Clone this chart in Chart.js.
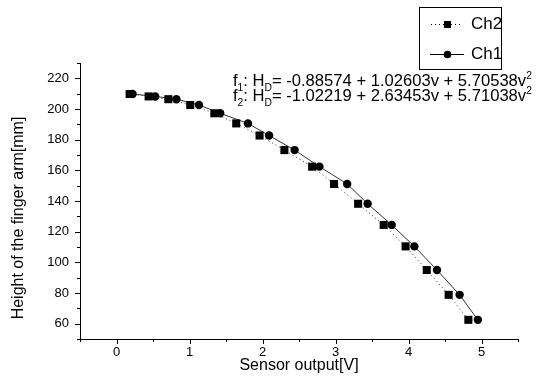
<!DOCTYPE html>
<html>
<head>
<meta charset="utf-8">
<script src="https://cdn.jsdelivr.net/npm/chart.js@4.4.0/dist/chart.umd.min.js"></script>
<style>
  html, body { margin: 0; padding: 0; background: #fff; }
  #wrap { width: 542px; height: 378px; }
</style>
</head>
<body>
<div id="wrap"><canvas id="chart" width="542" height="378"></canvas></div>
<script>
// values
const ch2X = [0.18, 0.44, 0.71, 1.01, 1.34, 1.64, 1.96, 2.30, 2.68, 2.98, 3.31, 3.66, 3.96, 4.25, 4.55, 4.82];
const ch2Y = [209.8, 208.2, 206.4, 202.6, 197.2, 190.6, 182.7, 173.2, 162.4, 151.1, 138.2, 124.4, 110.4, 95.0, 78.8, 62.5];
const ch1X = [0.22, 0.53, 0.82, 1.13, 1.42, 1.80, 2.09, 2.44, 2.78, 3.16, 3.44, 3.77, 4.08, 4.39, 4.70, 4.95];
const ch1Y = [209.8, 208.2, 206.4, 202.6, 197.2, 190.6, 182.7, 173.2, 162.4, 151.1, 138.2, 124.4, 110.4, 95.0, 78.8, 62.5];
const xTicks = [0, 1, 2, 3, 4, 5];
const yTicks = [60, 80, 100, 120, 140, 160, 180, 200, 220];
const seriesNames = ['Ch2', 'Ch1'];
const fitLines = [
    ['f', '1', ': H', 'D', '= -0.88574 + 1.02603v + 5.70538v', '2'],
    ['f', '2', ': H', 'D', '= -1.02219 + 2.63453v + 5.71038v', '2']
];

const FONT = '"Liberation Sans", Arial, sans-serif';
const INK = '#000';

function toPoints(xs, ys) {
    return xs.map((v, i) => ({ x: v, y: ys[i] }));
}

// parts alternate: normal, sub, normal, sub, normal, sup
function richWidth(ctx, parts, size) {
    let w = 0;
    parts.forEach((p, i) => {
        const fs = (i === 1 || i === 3 || i === 5) ? size * 0.62 : size;
        ctx.font = fs + 'px ' + FONT;
        w += ctx.measureText(p).width;
    });
    return w;
}

function drawRich(ctx, parts, x, y, size) {
    let cx = x;
    parts.forEach((p, i) => {
        let fs = size, dy = 0;
        if (i === 1 || i === 3) { fs = size * 0.62; dy = size * 0.28; }
        if (i === 5) { fs = size * 0.62; dy = -size * 0.42; }
        ctx.font = fs + 'px ' + FONT;
        ctx.fillText(p, cx, y + dy);
        cx += ctx.measureText(p).width;
    });
}

const decor = {
    id: 'decor',
    afterDraw(chart) {
        const { ctx, scales: { x, y }, chartArea: area } = chart;
        ctx.save();
        ctx.strokeStyle = INK;
        ctx.fillStyle = INK;
        ctx.lineWidth = 1;

        // x ticks, major + minor, pointing down
        for (let v = x.min; v <= x.max + 1e-9; v += 0.5) {
            const px = Math.round(x.getPixelForValue(v)) + 0.5;
            const len = Math.abs(v - Math.round(v)) < 1e-9 ? 5 : 3;
            ctx.beginPath();
            ctx.moveTo(px, area.bottom);
            ctx.lineTo(px, area.bottom + len);
            ctx.stroke();
        }
        // y ticks, pointing left
        for (let v = y.min; v <= y.max + 1e-9; v += 10) {
            const py = Math.round(y.getPixelForValue(v)) + 0.5;
            const len = v % 20 === 0 ? 5 : 3;
            ctx.beginPath();
            ctx.moveTo(area.left, py);
            ctx.lineTo(area.left - len, py);
            ctx.stroke();
        }

        // y axis title
        ctx.save();
        ctx.translate(19, 218);
        ctx.rotate(-Math.PI / 2);
        ctx.font = '16px ' + FONT;
        ctx.textAlign = 'center';
        ctx.textBaseline = 'middle';
        ctx.fillText('Height of the finger arm[mm]', 0, 0);
        ctx.restore();

        // fit equations, sized to span the same width as the original
        ctx.textBaseline = 'alphabetic';
        ctx.textAlign = 'left';
        const eqSize = 15 * 299 / richWidth(ctx, fitLines[0], 15);
        drawRich(ctx, fitLines[0], 233, 86, eqSize);
        drawRich(ctx, fitLines[1], 233, 101, eqSize);

        // legend
        ctx.lineWidth = 1;
        ctx.strokeRect(419.5, 7.5, 82, 62);
        ctx.font = '17px ' + FONT;
        ctx.textBaseline = 'middle';
        // Ch2: dotted line + square
        ctx.setLineDash([1, 3]);
        ctx.beginPath();
        ctx.moveTo(431, 24.5);
        ctx.lineTo(462, 24.5);
        ctx.stroke();
        ctx.setLineDash([]);
        ctx.fillRect(444, 21, 7, 7);
        ctx.fillText(seriesNames[0], 471, 24);
        // Ch1: solid line + circle
        ctx.beginPath();
        ctx.moveTo(430, 54.5);
        ctx.lineTo(464, 54.5);
        ctx.stroke();
        ctx.beginPath();
        ctx.arc(447.5, 54.5, 3.8, 0, Math.PI * 2);
        ctx.fill();
        ctx.fillText(seriesNames[1], 471, 54);

        ctx.restore();
    }
};

new Chart(document.getElementById('chart'), {
    type: 'scatter',
    data: {
        datasets: [{
            label: seriesNames[0],
            data: toPoints(ch2X, ch2Y),
            showLine: true,
            borderColor: '#333',
            borderWidth: 1,
            borderDash: [1, 3],
            backgroundColor: INK,
            pointStyle: 'rect',
            pointRadius: 5.7,
            pointBorderWidth: 0
        }, {
            label: seriesNames[1],
            data: toPoints(ch1X, ch1Y),
            showLine: true,
            borderColor: '#333',
            borderWidth: 1,
            backgroundColor: INK,
            pointStyle: 'circle',
            pointRadius: 4.2,
            pointBorderWidth: 0
        }]
    },
    options: {
        responsive: false,
        animation: false,
        layout: { padding: { top: 63, right: 24, left: 0, bottom: 0 } },
        plugins: {
            legend: { display: false },
            tooltip: { enabled: false }
        },
        scales: {
            x: {
                type: 'linear',
                min: -0.5,
                max: 5.5,
                afterBuildTicks: s => { s.ticks = xTicks.map(v => ({ value: v })); },
                afterFit: s => { s.height = 39; },
                grid: { display: false, drawTicks: false },
                border: { display: true, color: INK, width: 1 },
                ticks: {
                    color: INK,
                    padding: 6,
                    font: { family: FONT, size: 13 }
                },
                title: {
                    display: true,
                    text: 'Sensor output[V]',
                    color: INK,
                    padding: { top: 0, bottom: 3 },
                    font: { family: FONT, size: 16 }
                }
            },
            y: {
                type: 'linear',
                min: 50,
                max: 230,
                afterBuildTicks: s => { s.ticks = yTicks.map(v => ({ value: v })); },
                afterFit: s => { s.width = 80; },
                grid: { display: false, drawTicks: false },
                border: { display: true, color: INK, width: 1 },
                ticks: {
                    color: INK,
                    padding: 11,
                    font: { family: FONT, size: 13 }
                }
            }
        }
    },
    plugins: [decor]
});
</script>
</body>
</html>
